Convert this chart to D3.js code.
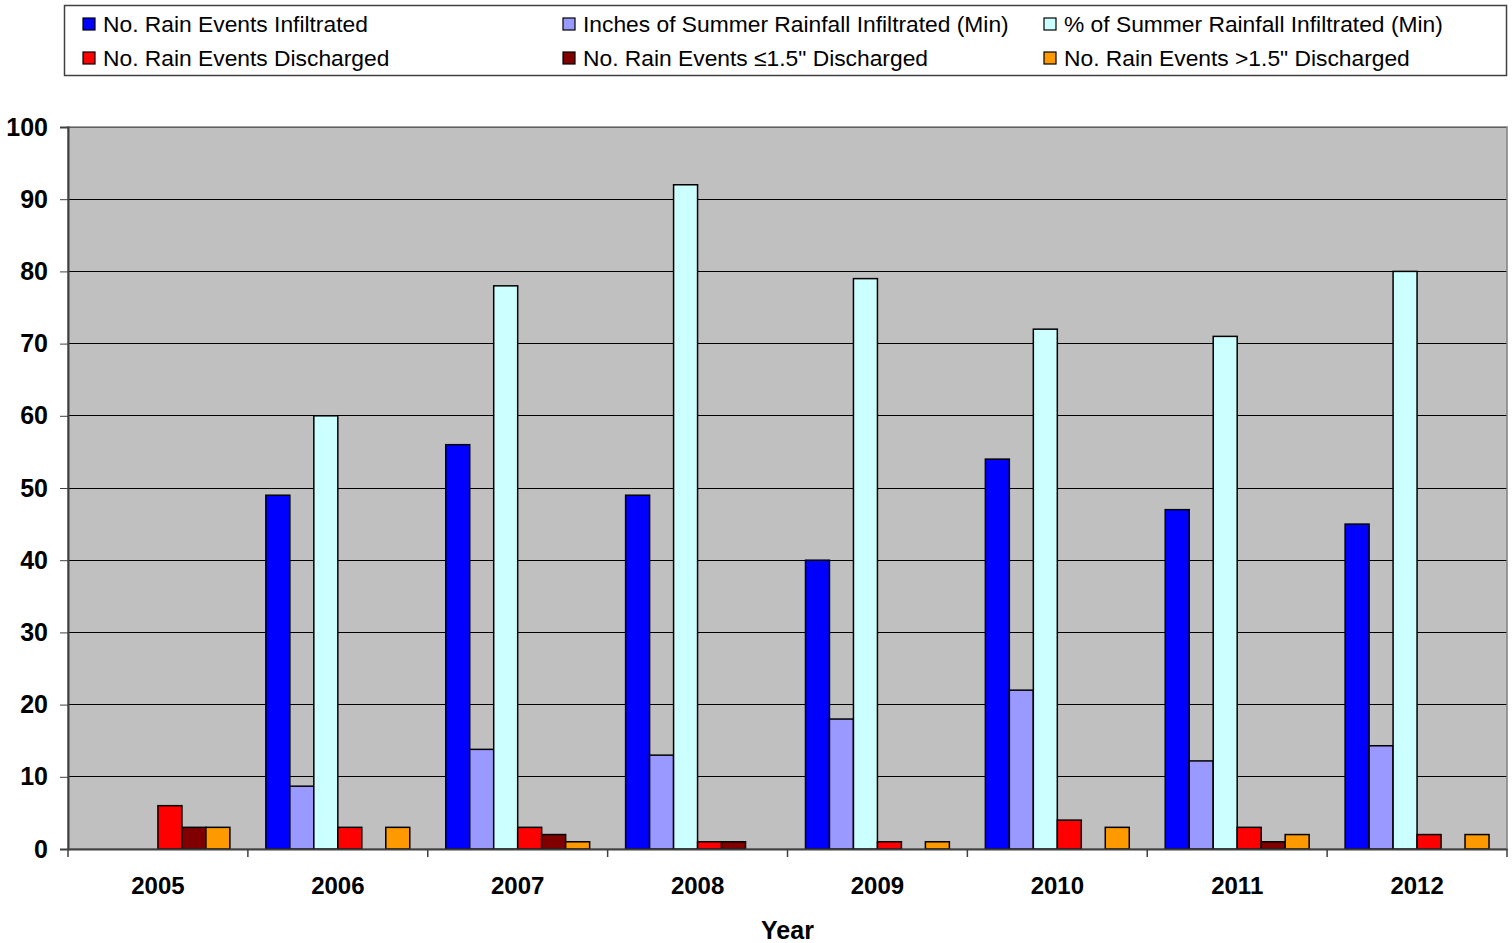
<!DOCTYPE html>
<html><head><meta charset="utf-8">
<script src="https://cdn.jsdelivr.net/npm/d3@7"></script>
<style>body{margin:0;background:#fff;font-family:"Liberation Sans",Arial,sans-serif;}</style>
</head><body><svg id="c" width="1512" height="943"></svg>
<script>
const years = ["2005","2006","2007","2008","2009","2010","2011","2012"];
const seriesNames = ["No. Rain Events Infiltrated","Inches of Summer Rainfall Infiltrated (Min)","% of Summer Rainfall Infiltrated (Min)","No. Rain Events Discharged","No. Rain Events \u22641.5\" Discharged","No. Rain Events >1.5\" Discharged"];
const seriesColors = ["#0000ff","#9999ff","#ccffff","#ff0000","#800000","#ff9900"];
const eventsInfiltrated = [0,49,56,49,40,54,47,45];
const inchesInfiltrated = [0,8.7,13.8,13,18,22,12.2,14.3];
const pctInfiltrated = [0,60,78,92,79,72,71,80];
const eventsDischarged = [6,3,3,1,1,4,3,2];
const eventsLE15Discharged = [3,0,2,1,0,0,1,0];
const eventsGT15Discharged = [3,3,1,0,1,3,2,2];
const yTicks = [0,10,20,30,40,50,60,70,80,90,100];
const allSeries = [eventsInfiltrated,inchesInfiltrated,pctInfiltrated,eventsDischarged,eventsLE15Discharged,eventsGT15Discharged];

const svg = d3.select("#c");
const L=68,R=1507,T=127,B=849;
const FF="Liberation Sans, Arial, sans-serif";
const x = d3.scaleBand().domain(years).range([L,R]).paddingInner(0).paddingOuter(0);
const y = d3.scaleLinear().domain([0,100]).range([B,T]);
const inner = d3.scaleBand().domain(d3.range(6)).range([0,x.bandwidth()]).paddingInner(0).paddingOuter(0.75);

svg.append("rect").attr("x",L).attr("y",T).attr("width",R-L).attr("height",B-T).attr("fill","#c0c0c0");
svg.append("g").selectAll("line").data(yTicks.filter(d=>d>0)).join("line")
 .attr("x1",L).attr("x2",R).attr("y1",d=>y(d)).attr("y2",d=>y(d)).attr("stroke","#000").attr("stroke-width",1).attr("shape-rendering","crispEdges");
svg.append("rect").attr("x",L).attr("y",T).attr("width",R-L).attr("height",B-T).attr("fill","none").attr("stroke","#808080").attr("stroke-width",1.5);

allSeries.forEach((vals,si)=>{
  svg.append("g").selectAll("rect").data(vals.map((v,i)=>({v,yr:years[i]})).filter(d=>d.v>0)).join("rect")
   .attr("x",d=>x(d.yr)+inner(si)).attr("width",inner.bandwidth())
   .attr("y",d=>y(d.v)).attr("height",d=>y(0)-y(d.v))
   .attr("fill",seriesColors[si]).attr("stroke","#000").attr("stroke-width",1.5);
});

const ya = svg.append("g").attr("transform",`translate(${L},0)`).call(d3.axisLeft(y).tickValues(yTicks).tickSize(8).tickPadding(12));
ya.select(".domain").attr("stroke","#404040").attr("stroke-width",2);
ya.selectAll(".tick line").attr("stroke","#404040");
ya.selectAll("text").attr("font-size",25).attr("font-weight","bold").attr("fill","#000").attr("font-family",FF);

const xa = svg.append("g").attr("transform",`translate(0,${B})`).call(d3.axisBottom(x).tickSize(0).tickPadding(28));
xa.select(".domain").attr("stroke","#404040").attr("stroke-width",2);
xa.selectAll("text").attr("font-size",24).attr("font-weight","bold").attr("fill","#000").attr("font-family",FF);
svg.append("g").selectAll("line").data(years.concat(["end"])).join("line")
 .attr("x1",(d,i)=>i<years.length?x(d):R).attr("x2",(d,i)=>i<years.length?x(d):R)
 .attr("y1",B).attr("y2",B+8).attr("stroke","#404040").attr("stroke-width",1.5);
svg.append("text").attr("x",(L+R)/2).attr("y",939).attr("text-anchor","middle").attr("font-size",25).attr("font-weight","bold").attr("font-family",FF).text("Year");

svg.append("rect").attr("x",64.5).attr("y",5.5).attr("width",1442).attr("height",70).attr("fill","#fff").attr("stroke","#404040").attr("stroke-width",1.5);
const colX=[83,563,1044], rowY=[24,58];
seriesNames.forEach((n,i)=>{
  const cx=colX[i%3], cy=rowY[Math.floor(i/3)];
  svg.append("rect").attr("x",cx).attr("y",cy-6).attr("width",12).attr("height",12).attr("fill",seriesColors[i]).attr("stroke","#000").attr("stroke-width",1.2);
  svg.append("text").attr("x",cx+20).attr("y",cy+8).attr("font-size",22.8).attr("font-family",FF).attr("fill","#000").text(n);
});
</script></body></html>
